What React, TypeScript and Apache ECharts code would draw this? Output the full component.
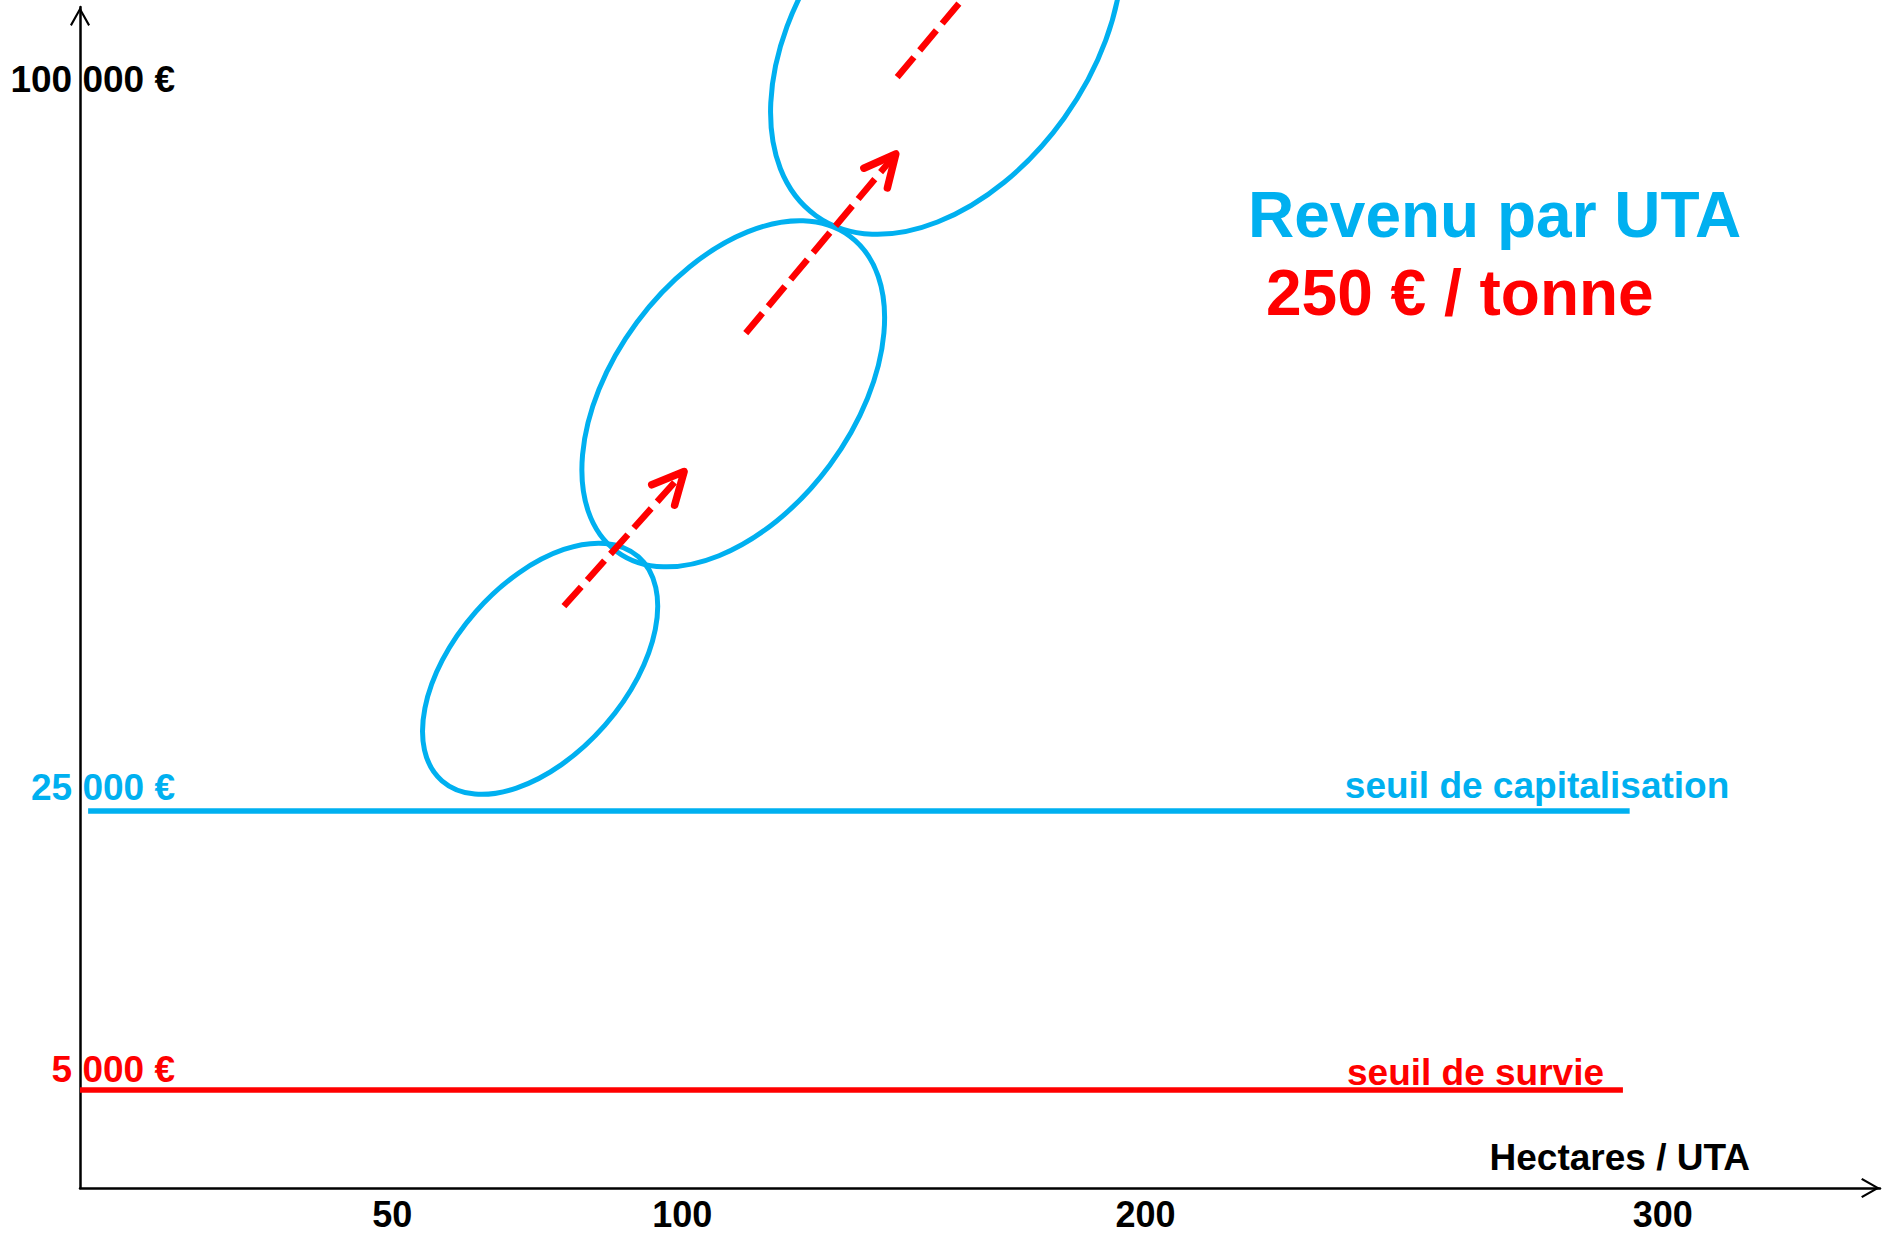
import React, { useEffect, useRef } from 'react';
import * as echarts from 'echarts';

// ---------- data ----------
const X_TICKS_HA = [50, 100, 200, 300];
const X_TICK_LABELS = ['50', '100', '200', '300'];
const Y_TICKS_EUR = [5000, 25000, 100000];
const Y_TICK_LABELS = ['5 000 €', '25 000 €', '100 000 €'];

const THRESHOLD_NAMES = ['seuil de survie', 'seuil de capitalisation'];
const THRESHOLD_EUR = [5000, 25000];
const THRESHOLD_FROM_HA = [0, 1.3];
const THRESHOLD_TO_HA = [292.3, 293.6];

// farm groups (ellipse centres)
const GROUP_CENTER_HA = [75.5, 111, 157];
const GROUP_CENTER_EUR = [40000, 69000, 107000];

// growth moves (dashed arrows)
const MOVE_FROM_HA = [79.6, 113.7, 146.4];
const MOVE_FROM_EUR = [46600, 75400, 102400];
const MOVE_TO_HA = [100.4, 146.1, 178.8];
const MOVE_TO_EUR = [60800, 94300, 121300];

const TITLE = 'Revenu par UTA';
const SUBTITLE = '250 € / tonne';
const X_NAME = 'Hectares / UTA';

// ---------- schematic (not to scale) axes ----------
const X_BREAK_HA = [0, 50, 100, 200, 300];
const X_BREAK_POS = [0, 312, 602, 1065, 1582];
const Y_BREAK_EUR = [0, 5000, 25000, 100000];
const Y_BREAK_POS = [0, 98, 377, 1088];
const X_MAX_HA = 342;
const Y_MAX_EUR = 109800;

function piecewise(v: number, from: number[], to: number[]) {
  let i = 1;
  while (i < from.length - 1 && v > from[i]) i++;
  const f0 = from[i - 1], f1 = from[i], t0 = to[i - 1], t1 = to[i];
  return t0 + ((v - f0) * (t1 - t0)) / (f1 - f0);
}
const xs = (ha: number) => piecewise(ha, X_BREAK_HA, X_BREAK_POS);
const ys = (eur: number) => piecewise(eur, Y_BREAK_EUR, Y_BREAK_POS);
const nearest = (arr: number[], v: number) => {
  let bi = 0;
  for (let i = 1; i < arr.length; i++) if (Math.abs(arr[i] - v) < Math.abs(arr[bi] - v)) bi = i;
  return bi;
};

// ---------- styles ----------
const CYAN = '#00B0F0';
const RED = '#FF0000';
const FONT = '"Liberation Sans", Arial, Helvetica, sans-serif';
const THRESHOLD_COLORS = [RED, CYAN];
const THRESHOLD_LABEL_AT_HA = [263.8, 275.7];
const THRESHOLD_LABEL_DIST = [-3, 5];
const Y_TICK_STYLES = ['r', 'c', 'b'];
const ELLIPSE_SHAPES = [
  { rx: 149, ry: 86, angle: 48.8 },
  { rx: 196, ry: 120, angle: 53.5 },
  { rx: 224, ry: 145, angle: 54.4 },
];
const ARROW_PATH = 'path://M10,0 L20,17.6 L18.2,18.8 L10,4.2 L1.8,18.8 L0,17.6 Z';

export default function App() {
  const ref = useRef<HTMLDivElement>(null);

  useEffect(() => {
    if (!ref.current) return;
    const chart = echarts.init(ref.current, null, { renderer: 'svg' });

    const xTickPos = X_TICKS_HA.map(xs);
    const yTickPos = Y_TICKS_EUR.map(ys);

    const labelBase = { fontFamily: FONT, fontWeight: 'bold' as const, fontSize: 37, lineHeight: 40 };

    const series: any[] = [];

    THRESHOLD_EUR.forEach((eur, i) => {
      series.push({
        type: 'line',
        silent: true,
        showSymbol: false,
        z: 2,
        lineStyle: { color: THRESHOLD_COLORS[i], width: 5.5, opacity: 1 },
        data: [
          [xs(THRESHOLD_FROM_HA[i]), ys(eur)],
          [xs(THRESHOLD_TO_HA[i]), ys(eur)],
        ],
      });
      series.push({
        type: 'scatter',
        silent: true,
        symbol: 'circle',
        symbolSize: 1,
        itemStyle: { color: 'transparent', opacity: 1 },
        z: 3,
        label: {
          show: true,
          position: 'top',
          distance: THRESHOLD_LABEL_DIST[i],
          formatter: THRESHOLD_NAMES[i],
          color: THRESHOLD_COLORS[i],
          opacity: 1,
          ...labelBase,
        },
        data: [[xs(THRESHOLD_LABEL_AT_HA[i]), ys(eur)]],
      });
    });

    series.push({
      type: 'custom',
      silent: true,
      clip: false,
      z: 4,
      data: GROUP_CENTER_HA.map((h, i) => [xs(h), ys(GROUP_CENTER_EUR[i])]),
      renderItem: (params: any, api: any) => {
        const p = api.coord([api.value(0), api.value(1)]);
        const s = ELLIPSE_SHAPES[params.dataIndex];
        return {
          type: 'ellipse',
          x: p[0],
          y: p[1],
          rotation: (s.angle * Math.PI) / 180,
          shape: { cx: 0, cy: 0, rx: s.rx, ry: s.ry },
          style: { fill: 'none', stroke: CYAN, lineWidth: 5 },
        };
      },
    });

    series.push({
      type: 'custom',
      silent: true,
      clip: false,
      z: 5,
      data: MOVE_FROM_HA.map((h, i) => [xs(h), ys(MOVE_FROM_EUR[i]), xs(MOVE_TO_HA[i]), ys(MOVE_TO_EUR[i])]),
      renderItem: (params: any, api: any) => {
        const a = api.coord([api.value(0), api.value(1)]);
        const b = api.coord([api.value(2), api.value(3)]);
        const dx = a[0] - b[0];
        const dy = a[1] - b[1];
        const len = Math.hypot(dx, dy);
        const ux = dx / len;
        const uy = dy / len;
        const ang = (26 * Math.PI) / 180;
        const L = 35;
        const arm = (sgn: number) => [
          b[0] + L * (ux * Math.cos(sgn * ang) - uy * Math.sin(sgn * ang)),
          b[1] + L * (ux * Math.sin(sgn * ang) + uy * Math.cos(sgn * ang)),
        ];
        return {
          type: 'group',
          children: [
            {
              type: 'line',
              shape: { x1: a[0], y1: a[1], x2: b[0] + ux * 4, y2: b[1] + uy * 4 },
              style: { stroke: RED, lineWidth: 6.5, lineDash: [26, 9], fill: null },
            },
            {
              type: 'polyline',
              shape: { points: [arm(1), b, arm(-1)] },
              style: { stroke: RED, lineWidth: 7.5, lineCap: 'round', lineJoin: 'round', fill: 'none' },
            },
          ],
        };
      },
    });

    const option: any = {
      animation: false,
      backgroundColor: '#ffffff',
      textStyle: { fontFamily: FONT },
      title: [
        {
          text: TITLE,
          left: 1248,
          top: 183,
          padding: 0,
          textStyle: { fontFamily: FONT, fontWeight: 'bold', fontSize: 64, lineHeight: 64, color: CYAN },
        },
        {
          text: SUBTITLE,
          left: 1266,
          top: 261,
          padding: 0,
          textStyle: { fontFamily: FONT, fontWeight: 'bold', fontSize: 64, lineHeight: 64, color: RED },
        },
      ],
      grid: { left: 80, right: 4, top: 7, bottom: 47, containLabel: false, outerBoundsMode: 'none' },
      xAxis: {
        type: 'value',
        min: 0,
        max: xs(X_MAX_HA),
        axisLine: {
          show: true,
          onZero: false,
          lineStyle: { color: '#000', width: 2.5 },
          symbol: ['none', ARROW_PATH],
          symbolSize: [20, 19],
          symbolOffset: [0, -9.5],
        },
        axisTick: { show: false },
        splitLine: { show: false },
        axisLabel: {
          customValues: xTickPos,
          formatter: (v: number) => X_TICK_LABELS[nearest(xTickPos, v)],
          margin: 6,
          color: '#000',
          verticalAlign: 'top',
          ...labelBase,
          fontSize: 36,
        },
        name: X_NAME,
        nameLocation: 'end',
        nameGap: -130,
        nameTextStyle: {
          ...labelBase,
          color: '#000',
          align: 'right',
          verticalAlign: 'bottom',
          padding: [0, 0, 11, 0],
        },
      },
      yAxis: {
        type: 'value',
        min: 0,
        max: ys(Y_MAX_EUR),
        axisLine: {
          show: true,
          onZero: false,
          lineStyle: { color: '#000', width: 2.5 },
          symbol: ['none', ARROW_PATH],
          symbolSize: [20, 19],
          symbolOffset: [0, -9.5],
        },
        axisTick: { show: false },
        splitLine: { show: false },
        axisLabel: {
          customValues: yTickPos,
          formatter: (v: number) => {
            const i = nearest(yTickPos, v);
            return `{${Y_TICK_STYLES[i]}|${Y_TICK_LABELS[i]}}`;
          },
          margin: -95,
          verticalAlign: 'bottom',
          ...labelBase,
          rich: {
            r: { ...labelBase, color: RED },
            c: { ...labelBase, color: CYAN, padding: [0, 0, 6, 0] },
            b: { ...labelBase, color: '#000' },
          },
        },
      },
      series,
    };

    chart.setOption(option);
    return () => chart.dispose();
  }, []);

  return (
    <div
      ref={ref}
      style={{ position: 'absolute', left: 0, top: 0, width: 1884, height: 1235, background: '#fff' }}
    />
  );
}
